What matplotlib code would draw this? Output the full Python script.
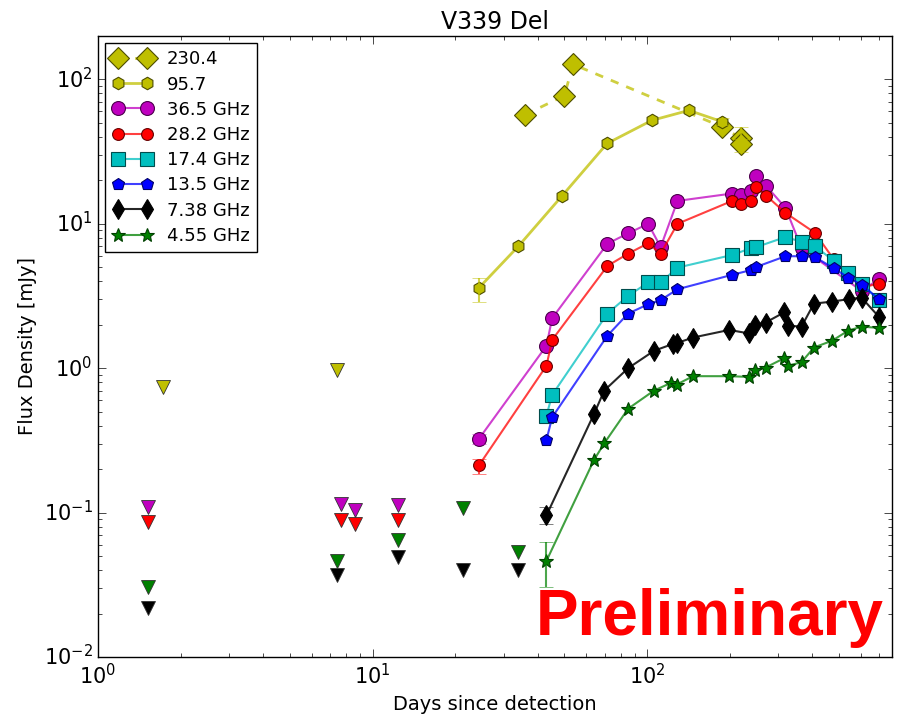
import numpy as np
import matplotlib
matplotlib.use('Agg')
import matplotlib.pyplot as plt

plt.style.use('classic')
plt.rcParams['font.family'] = ['DejaVu Sans']

# ---- detections (days since detection, flux density in mJy) ----
d_230 = [36.0, 49.9, 53.8, 187, 220, 220]
f_230 = [57, 77, 127, 47, 39, 35.6]

d_957 = [24.4, 34.0, 49.0, 71.5, 104, 142, 187]
f_957 = [3.6, 7.0, 15.6, 36, 52, 61, 51]

d_365 = [24.4, 43.0, 45.1, 71.7, 85.3, 100.9, 112, 129, 204, 219, 238, 250, 272, 319, 365, 604, 698]
f_365 = [0.324, 1.43, 2.22, 7.28, 8.59, 10.0, 6.90, 14.4, 16.2, 15.7, 16.8, 21.4, 18.2, 12.9, 6.8, 3.43, 4.13]

d_282 = [24.4, 43.0, 45.1, 71.7, 85.3, 100.9, 112, 129, 204, 219, 238, 250, 272, 319, 408, 478, 604, 698]
f_282 = [0.212, 1.04, 1.57, 5.11, 6.21, 7.33, 6.21, 10.0, 14.4, 13.8, 14.4, 17.9, 15.6, 11.9, 8.67, 5.68, 3.62, 3.85]

d_174 = [43.0, 45.1, 71.7, 85.3, 100.9, 112, 129, 204, 238, 250, 319, 365, 408, 478, 540, 604, 698]
f_174 = [0.47, 0.653, 2.39, 3.17, 3.92, 3.92, 4.97, 6.08, 6.76, 6.90, 8.09, 7.51, 7.02, 5.53, 4.59, 3.85, 2.96]

d_135 = [43.0, 45.1, 71.7, 85.3, 100.9, 112, 129, 204, 238, 250, 319, 365, 408, 478, 540, 604, 698]
f_135 = [0.319, 0.457, 1.68, 2.39, 2.77, 2.96, 3.52, 4.43, 4.77, 5.03, 5.96, 5.96, 5.89, 4.92, 4.24, 3.78, 3.01]

d_738 = [43.0, 64.1, 69.8, 85.3, 106, 124, 128, 147, 199, 235, 248, 270, 315, 326, 365, 405, 472, 543, 604, 698]
f_738 = [0.0957, 0.483, 0.70, 1.00, 1.32, 1.47, 1.49, 1.63, 1.84, 1.74, 2.0, 2.07, 2.43, 1.97, 1.94, 2.80, 2.89, 3.01, 3.08, 2.27]

d_455 = [43.0, 64.1, 69.8, 85.3, 106, 122, 128, 147, 199, 235, 248, 270, 315, 326, 365, 405, 472, 540, 604, 698]
f_455 = [0.0463, 0.232, 0.302, 0.524, 0.70, 0.79, 0.77, 0.88, 0.88, 0.87, 0.97, 1.01, 1.17, 1.04, 1.10, 1.39, 1.55, 1.82, 1.94, 1.90]

# ---- error bars (day, flux, lower err, upper err) ----
err_230 = ([220, 220], [39, 35.6], [3, 4.3], [8, 3])
err_957 = ([24.4, 187], [3.6, 51], [0.75, 3], [0.6, 3])
err_365 = ([24.4], [0.324], [0.025], [0.025])
err_282 = ([24.4], [0.212], [0.026], [0.024])
err_738 = ([43.0], [0.0957], [0.012], [0.013])
err_455 = ([43.0], [0.0463], [0.0157], [0.0163])

# ---- upper limits ----
ul_957_d = [1.72, 7.44]
ul_957_f = [0.745, 0.97]
ul_365_d = [1.52, 7.65, 8.65, 12.36]
ul_365_f = [0.109, 0.115, 0.105, 0.112]
ul_282_d = [1.52, 7.65, 8.65, 12.36]
ul_282_f = [0.0861, 0.0894, 0.0839, 0.0894]
ul_455_d = [1.52, 7.44, 12.36, 21.3, 34.0]
ul_455_f = [0.0306, 0.0463, 0.065, 0.108, 0.0533]
ul_738_d = [1.52, 7.44, 12.36, 21.3, 34.0]
ul_738_f = [0.0217, 0.0368, 0.0493, 0.0399, 0.0399]

c_y = (0.75, 0.75, 0.0)
c_m = (0.75, 0.0, 0.75)
c_r = (1.0, 0.0, 0.0)
c_c = (0.0, 0.75, 0.75)
c_b = (0.0, 0.0, 1.0)
c_k = (0.0, 0.0, 0.0)
c_g = (0.0, 0.5, 0.0)


def lc(c, a=0.75):
    return (c[0], c[1], c[2], a)


fig = plt.figure(figsize=(9.02, 7.18), dpi=100, facecolor='white')
ax = fig.add_axes([0.1086, 0.085, 0.989 - 0.1086, 0.950 - 0.085])
ax.set_xscale('log')
ax.set_yscale('log')

ax.plot(d_230, f_230, '--', color=lc(c_y), lw=2, marker='D', ms=11, mfc=c_y, mec=(0.3, 0.3, 0), mew=0.8, label='230.4')
ax.plot(d_957, f_957, '-', color=lc(c_y), lw=2, marker='h', ms=9, mfc=c_y, mec=(0.3, 0.3, 0), mew=0.8, label='95.7')
ax.plot(d_365, f_365, '-', color=lc(c_m), lw=1.5, marker='o', ms=10, mfc=c_m, mec=(0.3, 0, 0.3), mew=0.8, label='36.5 GHz')
ax.plot(d_282, f_282, '-', color=lc(c_r), lw=1.5, marker='o', ms=8.5, mfc=c_r, mec=(0.4, 0, 0), mew=0.8, label='28.2 GHz')
ax.plot(d_174, f_174, '-', color=lc(c_c), lw=1.5, marker='s', ms=10, mfc=c_c, mec=(0, 0.3, 0.3), mew=0.8, label='17.4 GHz')
ax.plot(d_135, f_135, '-', color=lc(c_b), lw=1.5, marker='p', ms=9, mfc=c_b, mec=(0, 0, 0.4), mew=0.8, label='13.5 GHz')
ax.plot(d_738, f_738, '-', color=lc(c_k, 0.85), lw=1.5, marker='d', ms=10.5, mfc=c_k, mec='k', mew=0.8, label='7.38 GHz')
ax.plot(d_455, f_455, '-', color=lc(c_g), lw=1.5, marker='*', ms=10, mfc=c_g, mec=(0, 0.25, 0), mew=0.8, label='4.55 GHz')

for e, c in [(err_230, c_y), (err_957, c_y), (err_365, c_m), (err_282, c_r),
             (err_738, c_k), (err_455, c_g)]:
    ax.errorbar(e[0], e[1], yerr=[e[2], e[3]], fmt='none', ecolor=lc(c, 0.7), capsize=5, elinewidth=1.5)

for dd, ff, c in [(ul_957_d, ul_957_f, c_y), (ul_365_d, ul_365_f, c_m), (ul_282_d, ul_282_f, c_r),
                  (ul_455_d, ul_455_f, c_g), (ul_738_d, ul_738_f, c_k)]:
    ax.plot(dd, ff, 'v', ms=10, mfc=c, mec=(0.2, 0.2, 0.2), mew=0.6, ls='none')

ax.set_xlim(1, 780)
ax.set_ylim(1e-2, 200)
ax.set_title('V339 Del', fontsize=17)
ax.set_xlabel('Days since detection', fontsize=14)
ax.set_ylabel('Flux Density [mJy]', fontsize=14)
ax.tick_params(labelsize=15)
ax.tick_params(which='major', length=6)
ax.tick_params(which='minor', length=3)

leg = ax.legend(loc='upper left', numpoints=2, fontsize=13, frameon=True,
                borderaxespad=0.4, labelspacing=0.4, handlelength=2.2)
leg.get_frame().set_edgecolor('k')

fig.text(0.98, 0.115, 'Preliminary', color='red', fontsize=46, fontweight='bold',
         family='Liberation Sans', ha='right', va='baseline')

fig.savefig('out.png', dpi=100, facecolor='white')
